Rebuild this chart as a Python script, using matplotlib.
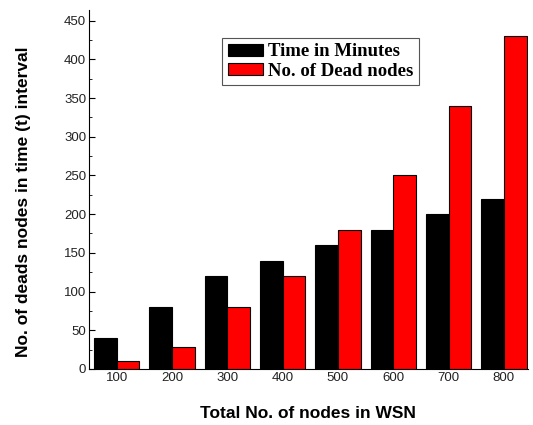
import matplotlib.pyplot as plt
import numpy as np
from matplotlib.ticker import MultipleLocator

nodes = ['100', '200', '300', '400', '500', '600', '700', '800']
time_minutes = [40, 80, 120, 140, 160, 180, 200, 220]
dead_nodes = [10, 28, 80, 120, 180, 250, 340, 430]

fig = plt.figure(figsize=(5.33, 4.25), dpi=100)
ax = fig.add_axes([0.167, 0.132, 0.823, 0.845])

x = np.arange(len(nodes))
w = 0.41
ax.bar(x - w / 2, time_minutes, w, color='black', edgecolor='black', linewidth=0.8,
       label='Time in Minutes')
ax.bar(x + w / 2, dead_nodes, w, color='#ff0000', edgecolor='black', linewidth=0.8,
       label='No. of Dead nodes')

ax.set_xlim(-0.5, 7.43)
ax.set_ylim(0, 464)
ax.set_xticks(x)
ax.set_xticklabels(nodes)
ax.yaxis.set_major_locator(MultipleLocator(50))
ax.yaxis.set_minor_locator(MultipleLocator(25))
ax.tick_params(axis='y', which='both', direction='in', labelsize=9.5, labelcolor='#222222', pad=2)
ax.tick_params(axis='y', which='major', length=4)
ax.tick_params(axis='y', which='minor', length=2)
ax.tick_params(axis='x', length=0, labelsize=9.5, labelcolor='#222222', pad=2)
for lbl in ax.get_xticklabels() + ax.get_yticklabels():
    lbl.set_family('Liberation Sans')

ax.spines['top'].set_visible(False)
ax.spines['right'].set_visible(False)

ax.set_xlabel('Total No. of nodes in WSN', fontsize=12.5, fontweight='heavy',
              family='Liberation Sans', labelpad=16)
ax.set_ylabel('No. of deads nodes in time (t) interval', fontsize=12.5, fontweight='heavy',
              family='Liberation Sans')
ax.yaxis.set_label_coords(-0.133, 0.465)

leg = ax.legend(loc='upper left', bbox_to_anchor=(0.303, 0.922), fancybox=False,
                edgecolor='#555555', framealpha=1,
                prop={'family': 'Liberation Serif', 'weight': 'bold', 'size': 13.5},
                handlelength=1.9, handleheight=0.6, handletextpad=0.25,
                labelspacing=0.12, borderpad=0.3, borderaxespad=0)
leg.get_frame().set_linewidth(0.8)

fig.savefig('out.png', dpi=100, facecolor='white')
